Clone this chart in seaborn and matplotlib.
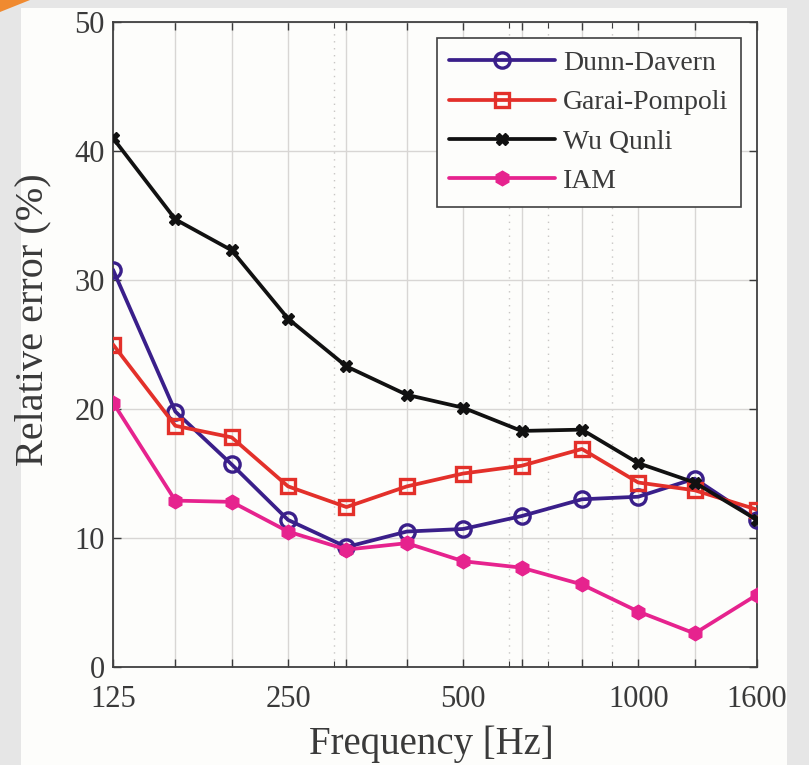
import matplotlib
matplotlib.use('Agg')
import matplotlib.pyplot as plt
import matplotlib.ticker as mticker
from matplotlib.patches import Rectangle, Polygon
import pandas as pd
import seaborn as sns

# Data
freqs = [125, 160, 200, 250, 315, 400, 500, 630, 800, 1000, 1250, 1600]
dunn_davern = [30.8, 19.8, 15.7, 11.4, 9.3, 10.5, 10.7, 11.7, 13.0, 13.2, 14.6, 11.4]
garai_pompoli = [25.0, 18.7, 17.8, 14.0, 12.4, 14.0, 15.0, 15.6, 16.9, 14.3, 13.7, 12.2]
wu_qunli = [41.0, 34.7, 32.3, 27.0, 23.3, 21.1, 20.1, 18.3, 18.4, 15.8, 14.3, 11.4]
iam = [20.5, 12.9, 12.8, 10.5, 9.1, 9.6, 8.2, 7.7, 6.4, 4.3, 2.6, 5.6]

labelled_ticks = [125, 250, 500, 1000, 1600]
minor_ticks = [300, 600, 700, 900]
y_ticks = [0, 10, 20, 30, 40, 50]

series = {
    'Dunn-Davern': dunn_davern,
    'Garai-Pompoli': garai_pompoli,
    'Wu Qunli': wu_qunli,
    'IAM': iam,
}

# style per series: colour, marker, marker size, filled
STYLES = {
    'Dunn-Davern': ('#3a1f8a', 'o', 11, False),
    'Garai-Pompoli': ('#e3302a', 's', 10, False),
    'Wu Qunli': ('#111111', 'X', 9, True),
    'IAM': ('#e6238e', 'h', 10.5, True),
}

df = pd.concat(
    [pd.DataFrame({'freq': freqs, 'err': vals, 'model': name}) for name, vals in series.items()],
    ignore_index=True,
)

sns.set_style('ticks')
plt.rcParams['font.family'] = ['Liberation Serif', 'DejaVu Serif']
plt.rcParams['text.color'] = '#3a3a3a'
plt.rcParams['axes.labelcolor'] = '#3a3a3a'
plt.rcParams['xtick.color'] = '#3a3a3a'
plt.rcParams['ytick.color'] = '#3a3a3a'

fig = plt.figure(figsize=(8.09, 7.65), dpi=100)
fig.patch.set_facecolor('#e6e6e6')

# white slide panel and orange swoosh behind the chart
fig.patches.append(Rectangle((21 / 809, 0), (787 - 21) / 809, 1 - 8 / 765,
                             transform=fig.transFigure, facecolor='#fdfdfb',
                             edgecolor='none', zorder=-3))
fig.patches.append(Polygon([(0, 1 - 12 / 765), (0, 1), (30 / 809, 1)], closed=True,
                           transform=fig.transFigure, facecolor='#f08a30',
                           edgecolor='none', zorder=-2))

ax = fig.add_axes([113 / 809, 98 / 765, 644 / 809, 645 / 765])
ax.set_facecolor('#fdfdfb')

for name in series:
    color, marker, msize, filled = STYLES[name]
    sub = df[df['model'] == name]
    sns.lineplot(
        data=sub, x='freq', y='err', ax=ax, color=color, linewidth=2.7,
        marker=marker, markersize=msize,
        markerfacecolor=color if filled else 'none',
        markeredgecolor=color, markeredgewidth=2.4 if not filled else 1.0,
        label=name, zorder=3,
    )

ax.set_xscale('log')
ax.set_xlim(125, 1600)
ax.set_ylim(0, 50)

ax.xaxis.set_major_locator(mticker.FixedLocator(freqs))
ax.xaxis.set_major_formatter(mticker.FuncFormatter(
    lambda v, pos: f'{int(round(v))}' if int(round(v)) in labelled_ticks else ''))
ax.xaxis.set_minor_locator(mticker.FixedLocator(minor_ticks))
ax.xaxis.set_minor_formatter(mticker.NullFormatter())
ax.set_yticks(y_ticks)

ax.tick_params(axis='both', which='major', direction='in', length=6, width=1.0,
               top=True, right=True, labelsize=22)
ax.tick_params(axis='x', which='major', pad=13)
ax.tick_params(axis='y', which='major', pad=6)
ax.tick_params(axis='x', which='minor', direction='in', length=4, width=0.8,
               top=True, bottom=True)

ax.grid(True, which='major', color='#d8d6d4', linewidth=1.0, zorder=0)
ax.grid(True, which='minor', axis='x', color='#c8c6c4', linewidth=1.0,
        linestyle=(0, (1, 4)), zorder=0)

for sp in ax.spines.values():
    sp.set_color('#404040')
    sp.set_linewidth(1.3)

ax.set_xlabel('Frequency [Hz]', fontsize=28)
ax.set_ylabel('Relative error (%)', fontsize=29)
ax.xaxis.set_label_coords(0.495, -0.09)
ax.yaxis.set_label_coords(-0.095, 0.538)

leg = ax.legend(loc='upper right', bbox_to_anchor=(0.975, 0.975), fontsize=20,
                frameon=True, fancybox=False, handlelength=3.8, handletextpad=0.3,
                borderpad=0.45, labelspacing=0.5, borderaxespad=0)
leg.get_frame().set_edgecolor('#404040')
leg.get_frame().set_linewidth(1.2)
leg.get_frame().set_facecolor('#fdfdfb')
leg.get_frame().set_alpha(1)

fig.savefig('out.png', dpi=100, facecolor=fig.get_facecolor())
